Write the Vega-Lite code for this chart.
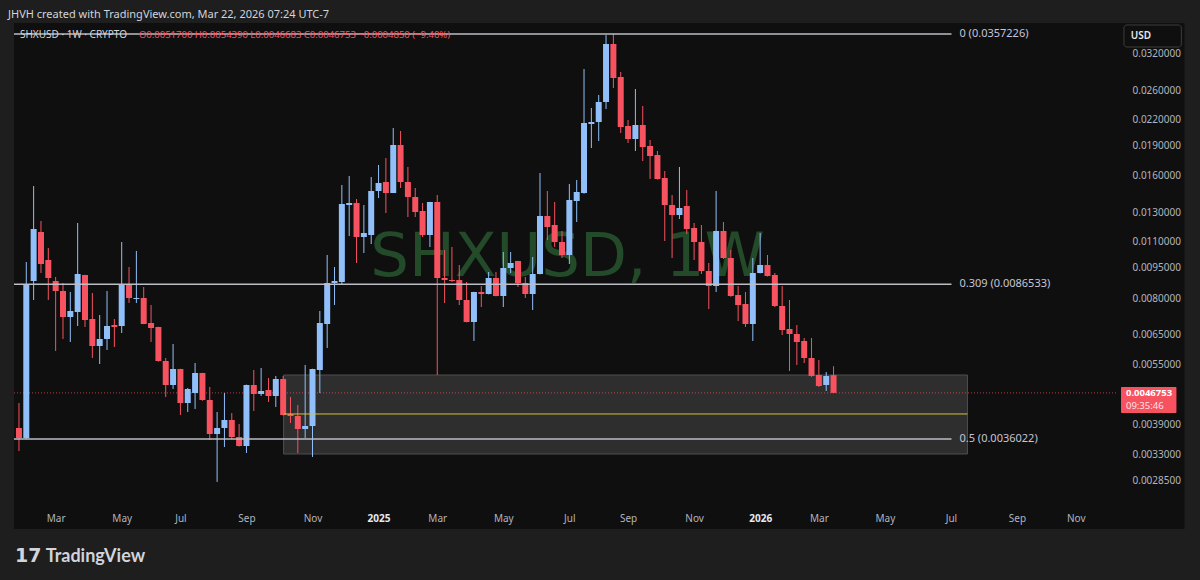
{
  "$schema": "https://vega.github.io/schema/vega-lite/v6.json",
  "width": 1114,
  "height": 483,
  "autosize": {"type": "none"},
  "padding": {"left": 9, "top": 23, "right": 77, "bottom": 74},
  "background": "#1e1e1e",
  "config": {"view": {"stroke": null}, "font": "Noto Sans"},
  "title": {"text": "JHVH created with TradingView.com, Mar 22, 2026 07:24 UTC-7", "anchor": "start", "frame": "group", "orient": "top", "offset": -3, "baseline": "middle", "font": "Noto Sans", "fontSize": 11, "fontWeight": "normal", "color": "#d1d4dc", "dx": -1},
  "datasets": {
    "one": [{}],
    "candles": [
      {"d":"2024-01-29","o":0.003832,"h":0.004415,"l":0.003364,"c":0.003621},
      {"d":"2024-02-05","o":0.003621,"h":0.009815,"l":0.0036,"c":0.008616},
      {"d":"2024-02-12","o":0.008814,"h":0.015098,"l":0.007914,"c":0.011834},
      {"d":"2024-02-19","o":0.011634,"h":0.012383,"l":0.009222,"c":0.009705},
      {"d":"2024-02-26","o":0.009927,"h":0.010626,"l":0.007914,"c":0.008965},
      {"d":"2024-03-04","o":0.008814,"h":0.009016,"l":0.005928,"c":0.008329},
      {"d":"2024-03-11","o":0.008329,"h":0.008715,"l":0.006346,"c":0.007187},
      {"d":"2024-03-18","o":0.007187,"h":0.008282,"l":0.006238,"c":0.007436},
      {"d":"2024-03-25","o":0.007394,"h":0.012243,"l":0.00683,"c":0.00917},
      {"d":"2024-04-01","o":0.009119,"h":0.00913,"l":0.006792,"c":0.007066},
      {"d":"2024-04-08","o":0.007106,"h":0.008235,"l":0.005697,"c":0.006098},
      {"d":"2024-04-15","o":0.006098,"h":0.007269,"l":0.005507,"c":0.006346},
      {"d":"2024-04-22","o":0.006346,"h":0.008329,"l":0.005962,"c":0.00683},
      {"d":"2024-04-29","o":0.006869,"h":0.007106,"l":0.006064,"c":0.006792},
      {"d":"2024-05-06","o":0.00683,"h":0.010993,"l":0.006564,"c":0.008616},
      {"d":"2024-05-13","o":0.008616,"h":0.009541,"l":0.007781,"c":0.008005},
      {"d":"2024-05-20","o":0.00796,"h":0.010447,"l":0.007781,"c":0.008005},
      {"d":"2024-05-27","o":0.008005,"h":0.008519,"l":0.0069,"c":0.006908},
      {"d":"2024-06-03","o":0.006947,"h":0.007693,"l":0.006238,"c":0.006753},
      {"d":"2024-06-10","o":0.006792,"h":0.0068,"l":0.00558,"c":0.005601},
      {"d":"2024-06-17","o":0.005601,"h":0.005697,"l":0.004568,"c":0.00489},
      {"d":"2024-06-24","o":0.00489,"h":0.006168,"l":0.00478,"c":0.005353},
      {"d":"2024-07-01","o":0.005353,"h":0.00536,"l":0.004125,"c":0.004415},
      {"d":"2024-07-08","o":0.004415,"h":0.004808,"l":0.004196,"c":0.00478},
      {"d":"2024-07-15","o":0.004673,"h":0.005538,"l":0.004268,"c":0.005233},
      {"d":"2024-07-22","o":0.005233,"h":0.00524,"l":0.00447,"c":0.004491},
      {"d":"2024-07-29","o":0.004491,"h":0.004835,"l":0.00358,"c":0.003704},
      {"d":"2024-08-05","o":0.003704,"h":0.004196,"l":0.002823,"c":0.003832},
      {"d":"2024-08-12","o":0.003832,"h":0.004673,"l":0.003441,"c":0.00401},
      {"d":"2024-08-19","o":0.00401,"h":0.004172,"l":0.0036,"c":0.003641},
      {"d":"2024-08-26","o":0.003641,"h":0.00392,"l":0.00345,"c":0.00346},
      {"d":"2024-09-02","o":0.00346,"h":0.0049,"l":0.003326,"c":0.00489},
      {"d":"2024-09-09","o":0.00489,"h":0.005323,"l":0.00422,"c":0.004646},
      {"d":"2024-09-16","o":0.004646,"h":0.005384,"l":0.004594,"c":0.004726},
      {"d":"2024-09-23","o":0.004753,"h":0.005087,"l":0.00444,"c":0.004594},
      {"d":"2024-09-30","o":0.004594,"h":0.005145,"l":0.004317,"c":0.005058},
      {"d":"2024-10-07","o":0.005058,"h":0.005145,"l":0.00411,"c":0.004125},
      {"d":"2024-10-14","o":0.004149,"h":0.004568,"l":0.003942,"c":0.004102},
      {"d":"2024-10-21","o":0.004102,"h":0.004366,"l":0.003326,"c":0.003811},
      {"d":"2024-10-28","o":0.003811,"h":0.005476,"l":0.003621,"c":0.003876},
      {"d":"2024-11-04","o":0.003876,"h":0.00536,"l":0.003252,"c":0.005353},
      {"d":"2024-11-11","o":0.005323,"h":0.007436,"l":0.004673,"c":0.006947},
      {"d":"2024-11-18","o":0.006908,"h":0.010212,"l":0.00603,"c":0.008715},
      {"d":"2024-11-25","o":0.008715,"h":0.009541,"l":0.007693,"c":0.008814},
      {"d":"2024-12-02","o":0.008764,"h":0.015184,"l":0.008616,"c":0.013634},
      {"d":"2024-12-09","o":0.013557,"h":0.015978,"l":0.011373,"c":0.013712},
      {"d":"2024-12-16","o":0.013712,"h":0.014025,"l":0.00976,"c":0.011309},
      {"d":"2024-12-23","o":0.011309,"h":0.013557,"l":0.010329,"c":0.011569},
      {"d":"2024-12-30","o":0.011438,"h":0.015888,"l":0.010869,"c":0.014677},
      {"d":"2025-01-06","o":0.014677,"h":0.017006,"l":0.014105,"c":0.015357},
      {"d":"2025-01-13","o":0.015444,"h":0.017694,"l":0.012956,"c":0.014511},
      {"d":"2025-01-20","o":0.014511,"h":0.020971,"l":0.0145,"c":0.019046},
      {"d":"2025-01-27","o":0.019046,"h":0.020619,"l":0.014928,"c":0.015444},
      {"d":"2025-02-03","o":0.015444,"h":0.016814,"l":0.012667,"c":0.014185},
      {"d":"2025-02-10","o":0.014185,"h":0.014928,"l":0.012667,"c":0.013029},
      {"d":"2025-02-17","o":0.013104,"h":0.013712,"l":0.011309,"c":0.011438},
      {"d":"2025-02-24","o":0.011438,"h":0.0138,"l":0.010686,"c":0.01379},
      {"d":"2025-03-03","o":0.01379,"h":0.014347,"l":0.005174,"c":0.008965},
      {"d":"2025-03-10","o":0.008965,"h":0.010506,"l":0.007781,"c":0.008864},
      {"d":"2025-03-17","o":0.008864,"h":0.010686,"l":0.008764,"c":0.008814},
      {"d":"2025-03-24","o":0.008864,"h":0.00965,"l":0.007693,"c":0.007914},
      {"d":"2025-03-31","o":0.007914,"h":0.008764,"l":0.00697,"c":0.006986},
      {"d":"2025-04-07","o":0.006986,"h":0.00829,"l":0.006273,"c":0.008282},
      {"d":"2025-04-14","o":0.008282,"h":0.008567,"l":0.007606,"c":0.008188},
      {"d":"2025-04-21","o":0.008188,"h":0.009274,"l":0.00817,"c":0.008965},
      {"d":"2025-04-28","o":0.008965,"h":0.009274,"l":0.00808,"c":0.008096},
      {"d":"2025-05-05","o":0.008096,"h":0.010388,"l":0.007606,"c":0.009487},
      {"d":"2025-05-12","o":0.009487,"h":0.010388,"l":0.009222,"c":0.00976},
      {"d":"2025-05-19","o":0.009871,"h":0.00988,"l":0.008519,"c":0.008715},
      {"d":"2025-05-26","o":0.008715,"h":0.009016,"l":0.008005,"c":0.008188},
      {"d":"2025-06-02","o":0.008188,"h":0.010097,"l":0.007478,"c":0.00917},
      {"d":"2025-06-09","o":0.00917,"h":0.016252,"l":0.00915,"c":0.012739},
      {"d":"2025-06-16","o":0.012739,"h":0.014677,"l":0.011118,"c":0.011969},
      {"d":"2025-06-23","o":0.012105,"h":0.01379,"l":0.010686,"c":0.010993},
      {"d":"2025-06-30","o":0.010993,"h":0.011701,"l":0.01004,"c":0.010212},
      {"d":"2025-07-07","o":0.010212,"h":0.01527,"l":0.009705,"c":0.013947},
      {"d":"2025-07-14","o":0.013868,"h":0.01562,"l":0.012313,"c":0.014594},
      {"d":"2025-07-21","o":0.014511,"h":0.029296,"l":0.01445,"c":0.021574},
      {"d":"2025-07-28","o":0.021452,"h":0.023488,"l":0.018725,"c":0.021697},
      {"d":"2025-08-04","o":0.021697,"h":0.025284,"l":0.019483,"c":0.0243},
      {"d":"2025-08-11","o":0.0243,"h":0.0355,"l":0.023356,"c":0.033755},
      {"d":"2025-08-18","o":0.033755,"h":0.0357226,"l":0.026307,"c":0.02784},
      {"d":"2025-08-25","o":0.027998,"h":0.028803,"l":0.020386,"c":0.021091},
      {"d":"2025-09-01","o":0.02121,"h":0.021944,"l":0.019264,"c":0.019705},
      {"d":"2025-09-08","o":0.019705,"h":0.026158,"l":0.018409,"c":0.021331},
      {"d":"2025-09-15","o":0.021331,"h":0.023756,"l":0.017395,"c":0.018831},
      {"d":"2025-09-22","o":0.018938,"h":0.019594,"l":0.015709,"c":0.017895},
      {"d":"2025-09-29","o":0.017997,"h":0.018409,"l":0.01565,"c":0.015709},
      {"d":"2025-10-06","o":0.015798,"h":0.016438,"l":0.011055,"c":0.013557},
      {"d":"2025-10-13","o":0.013557,"h":0.014347,"l":0.01004,"c":0.012811},
      {"d":"2025-10-20","o":0.012811,"h":0.016814,"l":0.012524,"c":0.013328},
      {"d":"2025-10-27","o":0.01348,"h":0.01476,"l":0.011503,"c":0.011834},
      {"d":"2025-11-03","o":0.011901,"h":0.012243,"l":0.009927,"c":0.010993},
      {"d":"2025-11-10","o":0.010993,"h":0.012105,"l":0.00917,"c":0.009327},
      {"d":"2025-11-17","o":0.009327,"h":0.00976,"l":0.007521,"c":0.008567},
      {"d":"2025-11-24","o":0.008567,"h":0.014677,"l":0.008282,"c":0.011701},
      {"d":"2025-12-01","o":0.011701,"h":0.012313,"l":0.00998,"c":0.01004},
      {"d":"2025-12-08","o":0.01004,"h":0.010506,"l":0.00806,"c":0.008096},
      {"d":"2025-12-15","o":0.008142,"h":0.008567,"l":0.007026,"c":0.007693},
      {"d":"2025-12-22","o":0.007737,"h":0.008282,"l":0.006792,"c":0.006908},
      {"d":"2025-12-29","o":0.006908,"h":0.01004,"l":0.006273,"c":0.009222},
      {"d":"2026-01-05","o":0.009222,"h":0.011569,"l":0.0092,"c":0.00965},
      {"d":"2026-01-12","o":0.00965,"h":0.010212,"l":0.00904,"c":0.009067},
      {"d":"2026-01-19","o":0.009119,"h":0.009222,"l":0.007606,"c":0.00765},
      {"d":"2026-01-26","o":0.00765,"h":0.008567,"l":0.006491,"c":0.006677},
      {"d":"2026-02-02","o":0.006715,"h":0.007914,"l":0.005293,"c":0.006527},
      {"d":"2026-02-09","o":0.006527,"h":0.006869,"l":0.005476,"c":0.006238},
      {"d":"2026-02-16","o":0.006273,"h":0.006382,"l":0.005538,"c":0.005697},
      {"d":"2026-02-23","o":0.005697,"h":0.006382,"l":0.00512,"c":0.005145},
      {"d":"2026-03-02","o":0.005174,"h":0.005633,"l":0.004835,"c":0.004862},
      {"d":"2026-03-09","o":0.00489,"h":0.005263,"l":0.004726,"c":0.005145},
      {"d":"2026-03-16","o":0.00517,"h":0.005439,"l":0.0046683,"c":0.0046753}
    ],
    "fib": [
      {"label":"0 (0.0357226)","price":0.0357226},
      {"label":"0.309 (0.0086533)","price":0.0086533},
      {"label":"0.5 (0.0036022)","price":0.0036022}
    ]
  },
  "layer": [
    {
      "data": {"name": "one"},
      "mark": {"type": "rect", "fill": "#0f0f0f"},
      "encoding": {
        "x": {"datum": {"year":2024,"month":1,"date":24,"hours":6,"minutes":30,"utc":true}, "type": "temporal", "title": null,
              "scale": {"type": "utc", "nice": false, "domain": [{"year":2024,"month":1,"date":24,"hours":6,"minutes":30,"utc":true},{"year":2026,"month":12,"date":12,"hours":8,"utc":true}]},
              "axis": {"values": [{"year":2024,"month":3,"date":4,"utc":true},{"year":2024,"month":5,"date":6,"utc":true},{"year":2024,"month":7,"date":1,"utc":true},{"year":2024,"month":9,"date":2,"utc":true},{"year":2024,"month":11,"date":4,"utc":true},{"year":2025,"month":1,"date":6,"utc":true},{"year":2025,"month":3,"date":3,"utc":true},{"year":2025,"month":5,"date":5,"utc":true},{"year":2025,"month":7,"date":7,"utc":true},{"year":2025,"month":9,"date":1,"utc":true},{"year":2025,"month":11,"date":3,"utc":true},{"year":2026,"month":1,"date":5,"utc":true},{"year":2026,"month":3,"date":2,"utc":true},{"year":2026,"month":5,"date":4,"utc":true},{"year":2026,"month":7,"date":6,"utc":true},{"year":2026,"month":9,"date":7,"utc":true},{"year":2026,"month":11,"date":2,"utc":true}],
                       "labelExpr": "utcmonth(datum.value) === 0 ? utcFormat(datum.value, '%Y') : utcFormat(datum.value, '%b')",
                       "labelFont": "Noto Sans", "labelFontSize": 10,
                       "labelColor": {"condition": {"test": "utcmonth(datum.value) === 0", "value": "#e6e8ee"}, "value": "#b2b5be"},
                       "labelFontWeight": {"condition": {"test": "utcmonth(datum.value) === 0", "value": "bold"}, "value": "normal"},
                       "domain": false, "ticks": false, "tickSize": 0, "grid": false, "labelPadding": 7, "labelFlush": false, "labelOverlap": false, "zindex": 1, "title": null}},
        "x2": {"datum": {"year":2027,"month":2,"date":13,"hours":17,"utc":true}},
        "y": {"datum": 0.03802, "type": "quantitative", "title": null,
              "scale": {"type": "log", "nice": false, "domain": [0.0024632, 0.03802]},
              "axis": {"orient": "right", "values": [0.032, 0.026, 0.022, 0.019, 0.016, 0.013, 0.011, 0.0095, 0.008, 0.0065, 0.0055, 0.0039, 0.0033, 0.00285],
                       "format": ".7f", "labelFont": "Noto Sans", "labelFontSize": 10, "labelColor": "#b2b5be",
                       "domain": false, "ticks": false, "tickSize": 0, "grid": false, "labelPadding": 9, "labelFlush": false, "labelOverlap": false, "zindex": 1, "title": null}},
        "y2": {"datum": 0.0021626}
      }
    },
    {
      "data": {"name": "one"},
      "mark": {"type": "text", "text": "SHXUSD, 1W", "font": "DejaVu Sans", "fontSize": 61, "align": "center", "baseline": "alphabetic", "color": "#234a29"},
      "encoding": {
        "x": {"datum": {"year":2025,"month":7,"date":5,"hours":5,"utc":true}, "type": "temporal", "title": null},
        "y": {"datum": 0.009067, "type": "quantitative", "title": null}
      }
    },
    {
      "data": {"name": "one"},
      "mark": {"type": "rect", "fill": "#8c8c8c", "fillOpacity": 0.25, "stroke": "#4f4f4f", "strokeWidth": 1},
      "encoding": {
        "x": {"datum": {"year":2024,"month":10,"date":7,"hours":10,"utc":true}, "type": "temporal", "title": null},
        "x2": {"datum": {"year":2026,"month":7,"date":21,"hours":17,"utc":true}},
        "y": {"datum": 0.005174, "type": "quantitative", "title": null},
        "y2": {"datum": 0.003307}
      }
    },
    {
      "data": {"name": "one"},
      "mark": {"type": "rule", "color": "#f7525f", "strokeDash": [1, 2], "strokeWidth": 1, "opacity": 0.7},
      "encoding": {
        "x": {"datum": {"year":2024,"month":1,"date":24,"hours":6,"minutes":30,"utc":true}, "type": "temporal", "title": null},
        "x2": {"datum": {"year":2026,"month":12,"date":12,"hours":8,"utc":true}},
        "y": {"datum": 0.0046753, "type": "quantitative", "title": null}
      }
    },
    {
      "data": {"name": "candles"},
      "mark": {"type": "rule", "strokeWidth": 1},
      "encoding": {
        "x": {"field": "d", "type": "temporal", "title": null},
        "y": {"field": "l", "type": "quantitative", "title": null},
        "y2": {"field": "h"},
        "color": {"condition": {"test": "datum.c >= datum.o", "value": "#90bff9"}, "value": "#f7525f"}
      }
    },
    {
      "data": {"name": "candles"},
      "mark": {"type": "bar", "size": 6},
      "encoding": {
        "x": {"field": "d", "type": "temporal", "title": null},
        "y": {"field": "o", "type": "quantitative", "title": null},
        "y2": {"field": "c"},
        "color": {"condition": {"test": "datum.c >= datum.o", "value": "#90bff9"}, "value": "#f7525f"}
      }
    },
    {
      "data": {"name": "one"},
      "mark": {"type": "rule", "color": "#d4c13c", "strokeWidth": 1},
      "encoding": {
        "x": {"datum": {"year":2024,"month":10,"date":7,"hours":10,"utc":true}, "type": "temporal", "title": null},
        "x2": {"datum": {"year":2026,"month":7,"date":21,"hours":17,"utc":true}},
        "y": {"datum": 0.004149, "type": "quantitative", "title": null}
      }
    },
    {
      "data": {"name": "fib"},
      "mark": {"type": "rule", "color": "#bdbdc6", "strokeWidth": 1.5},
      "encoding": {
        "x": {"datum": {"year":2024,"month":1,"date":24,"hours":6,"minutes":30,"utc":true}, "type": "temporal", "title": null},
        "x2": {"datum": {"year":2026,"month":7,"date":6,"hours":12,"utc":true}},
        "y": {"field": "price", "type": "quantitative", "title": null}
      }
    },
    {
      "data": {"name": "fib"},
      "mark": {"type": "text", "align": "left", "baseline": "middle", "font": "Noto Sans", "fontSize": 11, "color": "#c6c4d8"},
      "encoding": {
        "x": {"datum": {"year":2026,"month":7,"date":14,"hours":2,"utc":true}, "type": "temporal", "title": null},
        "y": {"field": "price", "type": "quantitative", "title": null},
        "text": {"field": "label"}
      }
    },
    {
      "data": {"name": "one"},
      "mark": {"type": "text", "text": "SHXUSD · 1W · CRYPTO", "align": "left", "baseline": "middle", "font": "Noto Sans", "fontSize": 10, "color": "#d1d4dc"},
      "encoding": {
        "x": {"datum": {"year":2024,"month":1,"date":29,"hours":22,"utc":true}, "type": "temporal", "title": null},
        "y": {"datum": 0.035521, "type": "quantitative", "title": null}
      }
    },
    {
      "data": {"name": "one"},
      "mark": {"type": "text", "text": "O0.0051700 H0.0054390 L0.0046683 C0.0046753 −0.0004850 (−9.40%)", "align": "left", "baseline": "middle", "font": "Noto Sans", "fontSize": 9.5, "color": "#f7525f"},
      "encoding": {
        "x": {"datum": {"year":2024,"month":5,"date":22,"hours":10,"utc":true}, "type": "temporal", "title": null},
        "y": {"datum": 0.035521, "type": "quantitative", "title": null}
      }
    },
    {
      "data": {"name": "one"},
      "mark": {"type": "rect", "fill": "#f7525f", "cornerRadius": 1},
      "encoding": {
        "x": {"datum": {"year":2026,"month":12,"date":15,"hours":5,"utc":true}, "type": "temporal", "title": null},
        "x2": {"datum": {"year":2027,"month":2,"date":6,"hours":2,"utc":true}},
        "y": {"datum": 0.004835, "type": "quantitative", "title": null},
        "y2": {"datum": 0.004172}
      }
    },
    {
      "data": {"name": "one"},
      "mark": {"type": "text", "text": "0.0046753", "align": "left", "baseline": "middle", "font": "Noto Sans", "fontSize": 9.5, "fontWeight": "bold", "color": "#ffffff"},
      "encoding": {
        "x": {"datum": {"year":2026,"month":12,"date":19,"hours":22,"utc":true}, "type": "temporal", "title": null},
        "y": {"datum": 0.004665, "type": "quantitative", "title": null}
      }
    },
    {
      "data": {"name": "one"},
      "mark": {"type": "text", "text": "09:35:46", "align": "left", "baseline": "middle", "font": "Noto Sans", "fontSize": 9.5, "color": "#ffe3e6"},
      "encoding": {
        "x": {"datum": {"year":2026,"month":12,"date":19,"hours":22,"utc":true}, "type": "temporal", "title": null},
        "y": {"datum": 0.004335, "type": "quantitative", "title": null}
      }
    },
    {
      "data": {"name": "one"},
      "mark": {"type": "rect", "fill": "#0f0f0f", "stroke": "#3d3d3d", "strokeWidth": 1, "cornerRadius": 3},
      "encoding": {
        "x": {"datum": {"year":2026,"month":12,"date":18,"utc":true}, "type": "temporal", "title": null},
        "x2": {"datum": {"year":2027,"month":2,"date":10,"hours":19,"utc":true}},
        "y": {"datum": 0.037592, "type": "quantitative", "title": null},
        "y2": {"datum": 0.033186}
      }
    },
    {
      "data": {"name": "one"},
      "mark": {"type": "text", "text": "USD", "align": "left", "baseline": "middle", "font": "Noto Sans", "fontSize": 10, "fontWeight": 600, "color": "#e6e8ee"},
      "encoding": {
        "x": {"datum": {"year":2026,"month":12,"date":24,"hours":14,"utc":true}, "type": "temporal", "title": null},
        "y": {"datum": 0.03532, "type": "quantitative", "title": null}
      }
    },
    {
      "data": {"name": "one"},
      "mark": {"type": "text", "text": "17", "align": "left", "baseline": "alphabetic", "font": "DejaVu Sans", "fontSize": 19, "fontWeight": 900, "color": "#d1d4dc"},
      "encoding": {
        "x": {"datum": {"year":2024,"month":1,"date":25,"hours":5,"utc":true}, "type": "temporal", "title": null},
        "y": {"datum": 0.001794, "type": "quantitative", "title": null}
      }
    },
    {
      "data": {"name": "one"},
      "mark": {"type": "text", "text": "TradingView", "align": "left", "baseline": "alphabetic", "font": "Lato", "fontSize": 18, "fontWeight": "bold", "color": "#d1d4dc"},
      "encoding": {
        "x": {"datum": {"year":2024,"month":2,"date":23,"hours":12,"utc":true}, "type": "temporal", "title": null},
        "y": {"datum": 0.001794, "type": "quantitative", "title": null}
      }
    }
  ]
}
